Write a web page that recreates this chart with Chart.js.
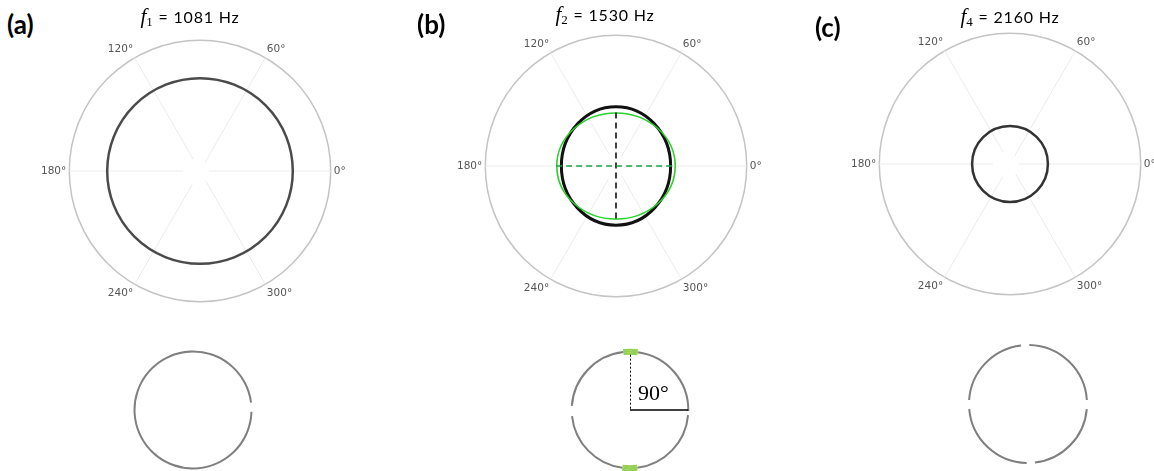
<!DOCTYPE html>
<html>
<head>
<meta charset="utf-8">
<script src="https://cdn.jsdelivr.net/npm/chart.js@4.4.1/dist/chart.umd.min.js"></script>
<style>
  html, body { margin: 0; padding: 0; width: 1154px; height: 471px; overflow: hidden; background: #fff; }
  body { position: relative; }
  canvas { position: absolute; }
  .tag { position: absolute; font: bold 26px Lato, sans-serif; color: #000; transform: translateY(-50%); }
  .title { position: absolute; font: 16px Lato, sans-serif; letter-spacing: 0.8px; color: #000; transform: translate(-50%, -50%); white-space: nowrap; }
  .title i { font: italic 21px "Liberation Serif", serif; letter-spacing: 0; }
  .title sub { font: 13px "Liberation Serif", serif; vertical-align: -3px; }
</style>
</head>
<body>
<canvas id="polarA" width="318" height="318" style="left:35px;top:12px"></canvas>
<canvas id="polarB" width="318" height="318" style="left:451px;top:7px"></canvas>
<canvas id="polarC" width="318" height="318" style="left:845px;top:5px"></canvas>
<canvas id="ringA" width="124" height="124" style="left:131px;top:348px"></canvas>
<canvas id="ringB" width="130" height="130" style="left:565px;top:345px"></canvas>
<canvas id="ringC" width="124" height="124" style="left:966px;top:342px"></canvas>
<script>
// labels
const angleLabels = ["0°", "300°", "240°", "180°", "120°", "60°"];
const panelTags = ["(a)", "(b)", "(c)"];
const modeIndex = [1, 2, 4];
const freqHz = [1081, 1530, 2160];

// polar curves, radius relative to the outer ring: [along 0°, along 90°]
const curveA = [0.71, 0.71];
const curveBBlack = [0.418, 0.453];
const curveBGreen = [0.453, 0.406];
const curveC = [0.29, 0.29];
const dashBBlack = 0.41;   // vertical dashed half length
const dashBGreen = 0.458;  // horizontal dashed half length

// ring sketches: arc lengths in degrees, clockwise from the start angle
const ringAArcs = [351.1, 8.9];
const ringAStart = 91.7;
const ringBArcs = [14.2, 83.4, 4, 77.8, 14.8, 76.4, 10, 79.4];
const ringBMarks = [14.2, 165.2, 14.8, 165.8];
const ringBStart = 353.4;
const ringCArcs = [84.8, 8.8, 78.3, 8.1, 83.8, 8.8, 79.3, 8.1];
const ringCStart = 1.3;

const GRAY = '#7f7f7f', GREEN = '#92d050', NONE = 'rgba(0,0,0,0)';

// titles and panel tags
const tagPos = [[7, 24], [417, 24], [815, 27]];
const titlePos = [[190, 17], [605, 15], [1010, 17]];
panelTags.forEach((t, i) => {
  const d = document.createElement('div');
  d.className = 'tag';
  d.style.left = tagPos[i][0] + 'px';
  d.style.top = tagPos[i][1] + 'px';
  d.textContent = t;
  document.body.appendChild(d);
  const h = document.createElement('div');
  h.className = 'title';
  h.style.left = titlePos[i][0] + 'px';
  h.style.top = titlePos[i][1] + 'px';
  h.innerHTML = '<i>f</i><sub>' + modeIndex[i] + '</sub> = ' + freqHz[i] + ' Hz';
  document.body.appendChild(h);
});

// draws curves on the radial scale
const polarShapes = {
  id: 'polarShapes',
  beforeDatasetsDraw(chart) {
    const s = chart.scales.r, ctx = chart.ctx;
    ctx.save();
    ctx.fillStyle = '#fff';
    ctx.beginPath();
    ctx.arc(s.xCenter - 4, s.yCenter + 1, s.getDistanceFromCenterForValue(0.1), 0, Math.PI * 2);
    ctx.fill();
    ctx.restore();
  },
  afterDatasetsDraw(chart, args, opts) {
    const s = chart.scales.r, ctx = chart.ctx;
    const cx = s.xCenter, cy = s.yCenter;
    ctx.save();
    (opts.curves || []).forEach(c => {
      ctx.beginPath();
      ctx.ellipse(cx, cy, s.getDistanceFromCenterForValue(c.r[0]),
        s.getDistanceFromCenterForValue(c.r[1]), 0, 0, Math.PI * 2);
      ctx.strokeStyle = c.color;
      ctx.lineWidth = c.width;
      ctx.setLineDash([]);
      ctx.stroke();
    });
    (opts.dashes || []).forEach(d => {
      const len = s.getDistanceFromCenterForValue(d.r);
      ctx.beginPath();
      if (d.dir === 'v') { ctx.moveTo(cx, cy - len); ctx.lineTo(cx, cy + len); }
      else { ctx.moveTo(cx - len, cy); ctx.lineTo(cx + len, cy); }
      ctx.strokeStyle = d.color;
      ctx.lineWidth = 1.6;
      ctx.setLineDash([6, 4]);
      ctx.stroke();
    });
    ctx.restore();
  }
};

function polarChart(id, curves, dashes) {
  return new Chart(document.getElementById(id), {
    type: 'radar',
    data: { labels: angleLabels, datasets: [] },
    options: {
      responsive: false,
      animation: false,
      scales: {
        r: {
          min: 0,
          max: 1,
          startAngle: 90,
          ticks: { display: false, stepSize: 1 },
          grid: { circular: true, color: '#c4c4c4', lineWidth: 1.5 },
          angleLines: { color: '#ececec', lineWidth: 1 },
          pointLabels: { font: { family: 'DejaVu Sans', size: 10.5 }, color: '#555', padding: 3 }
        }
      },
      plugins: {
        legend: { display: false },
        tooltip: { enabled: false },
        polarShapes: { curves: curves, dashes: dashes }
      }
    },
    plugins: [polarShapes]
  });
}

polarChart('polarA', [{ r: curveA, color: '#4a4a4a', width: 2.5 }], []);
polarChart('polarB', [
  { r: curveBBlack, color: '#111', width: 3 },
  { r: curveBGreen, color: '#2bd12b', width: 1.6 }
], [
  { r: dashBBlack, dir: 'v', color: '#111' },
  { r: dashBGreen, dir: 'h', color: '#1f9e4a' }
]);
polarChart('polarC', [{ r: curveC, color: '#333', width: 2.5 }], []);

// right-angle marker on ring (b)
const rightAngle = {
  id: 'rightAngle',
  afterDraw(chart) {
    const arc = chart.getDatasetMeta(1).data[0];
    const ctx = chart.ctx;
    const x = arc.x, y = arc.y, r = (arc.outerRadius + arc.innerRadius) / 2;
    ctx.save();
    ctx.strokeStyle = '#000';
    ctx.lineWidth = 1;
    ctx.setLineDash([2, 2]);
    ctx.beginPath();
    ctx.moveTo(x + 0.5, y - r + 3);
    ctx.lineTo(x + 0.5, y);
    ctx.stroke();
    ctx.setLineDash([]);
    ctx.lineWidth = 1.5;
    ctx.beginPath();
    ctx.moveTo(x, y);
    ctx.lineTo(x + r, y);
    ctx.stroke();
    ctx.fillStyle = '#000';
    ctx.font = '22px "Liberation Serif", serif';
    ctx.textAlign = 'left';
    ctx.textBaseline = 'alphabetic';
    ctx.fillText('90°', x + 8, y - 10);
    ctx.restore();
  }
};

function ringChart(id, datasets, start, outer, inner, extra) {
  return new Chart(document.getElementById(id), {
    type: 'doughnut',
    data: { datasets: datasets.map(d => ({ data: d.data, backgroundColor: d.colors, borderWidth: 0 })) },
    options: {
      responsive: false,
      animation: false,
      rotation: start,
      radius: outer,
      cutout: (inner / outer * 100) + '%',
      events: [],
      plugins: { legend: { display: false }, tooltip: { enabled: false } }
    },
    plugins: extra || []
  });
}

ringChart('ringA', [{ data: ringAArcs, colors: [GRAY, NONE] }], ringAStart, 59.5, 57.5);
const bColors = [GREEN, GRAY, NONE, GRAY, GREEN, GRAY, NONE, GRAY];
const mColors = [GREEN, NONE, GREEN, NONE];
ringChart('ringB', [
  { data: ringBMarks, colors: mColors },
  { data: ringBArcs, colors: bColors },
  { data: ringBMarks, colors: mColors }
], ringBStart, 61.3, 55.3, [rightAngle]);
ringChart('ringC', [{ data: ringCArcs, colors: [GRAY, NONE, GRAY, NONE, GRAY, NONE, GRAY, NONE] }], ringCStart, 60, 58);
</script>
</body>
</html>
